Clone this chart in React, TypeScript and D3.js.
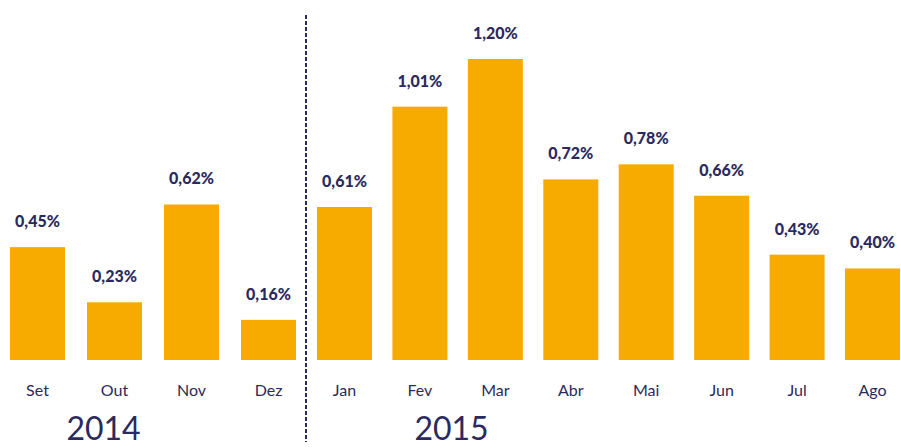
import React from "react";
import * as d3 from "d3";

const months2014 = ["Set", "Out", "Nov", "Dez"];
const values2014 = [0.45, 0.23, 0.62, 0.16];
const labels2014 = ["0,45%", "0,23%", "0,62%", "0,16%"];

const months2015 = ["Jan", "Fev", "Mar", "Abr", "Mai", "Jun", "Jul", "Ago"];
const values2015 = [0.61, 1.01, 1.2, 0.72, 0.78, 0.655, 0.42, 0.365];
const labels2015 = ["0,61%", "1,01%", "1,20%", "0,72%", "0,78%", "0,66%", "0,43%", "0,40%"];

const years = ["2014", "2015"];

const W = 901;
const H = 448;
const BAR = "#f7aa00";
const NAVY = "#2b2a5e";
const FONT = "Lato, 'Open Sans', sans-serif";

export default function App() {
  const y = d3.scaleLinear().domain([0, 1.2]).range([360, 59]);
  const x14 = d3.scaleBand<string>().domain(months2014).range([10, 296]).paddingInner(22 / 77).paddingOuter(0);
  const x15 = d3.scaleBand<string>().domain(months2015).range([317, 900]).paddingInner(0.2708).paddingOuter(0);

  const groups = [
    { x: x14, months: months2014, values: values2014, labels: labels2014 },
    { x: x15, months: months2015, values: values2015, labels: labels2015 },
  ];

  return (
    <svg width={W} height={H} style={{ position: "absolute", left: 0, top: 0, background: "#fff" }}>
      {groups.map((g, gi) => (
        <g key={gi}>
          {g.months.map((m, i) => {
            const bx = g.x(m)!;
            const bw = g.x.bandwidth();
            const top = y(g.values[i]);
            return (
              <g key={m}>
                <rect x={bx} y={top} width={bw} height={y(0) - top} fill={BAR} />
                <text
                  x={bx + bw / 2}
                  y={top - 20}
                  textAnchor="middle"
                  fontFamily={FONT}
                  fontWeight={900}
                  fontSize={16}
                  fill={NAVY}
                >
                  {g.labels[i]}
                </text>
                <text
                  x={bx + bw / 2}
                  y={396}
                  textAnchor="middle"
                  fontFamily={FONT}
                  fontSize={16}
                  fill={NAVY}
                >
                  {m}
                </text>
              </g>
            );
          })}
        </g>
      ))}
      <line x1={306} x2={306} y1={15} y2={442} stroke={NAVY} strokeWidth={2} strokeDasharray="4 2" />
      <text x={103.5} y={440} textAnchor="middle" fontFamily={FONT} fontSize={32} fill={NAVY}>
        {years[0]}
      </text>
      <text x={451.5} y={440} textAnchor="middle" fontFamily={FONT} fontSize={32} fill={NAVY}>
        {years[1]}
      </text>
    </svg>
  );
}
